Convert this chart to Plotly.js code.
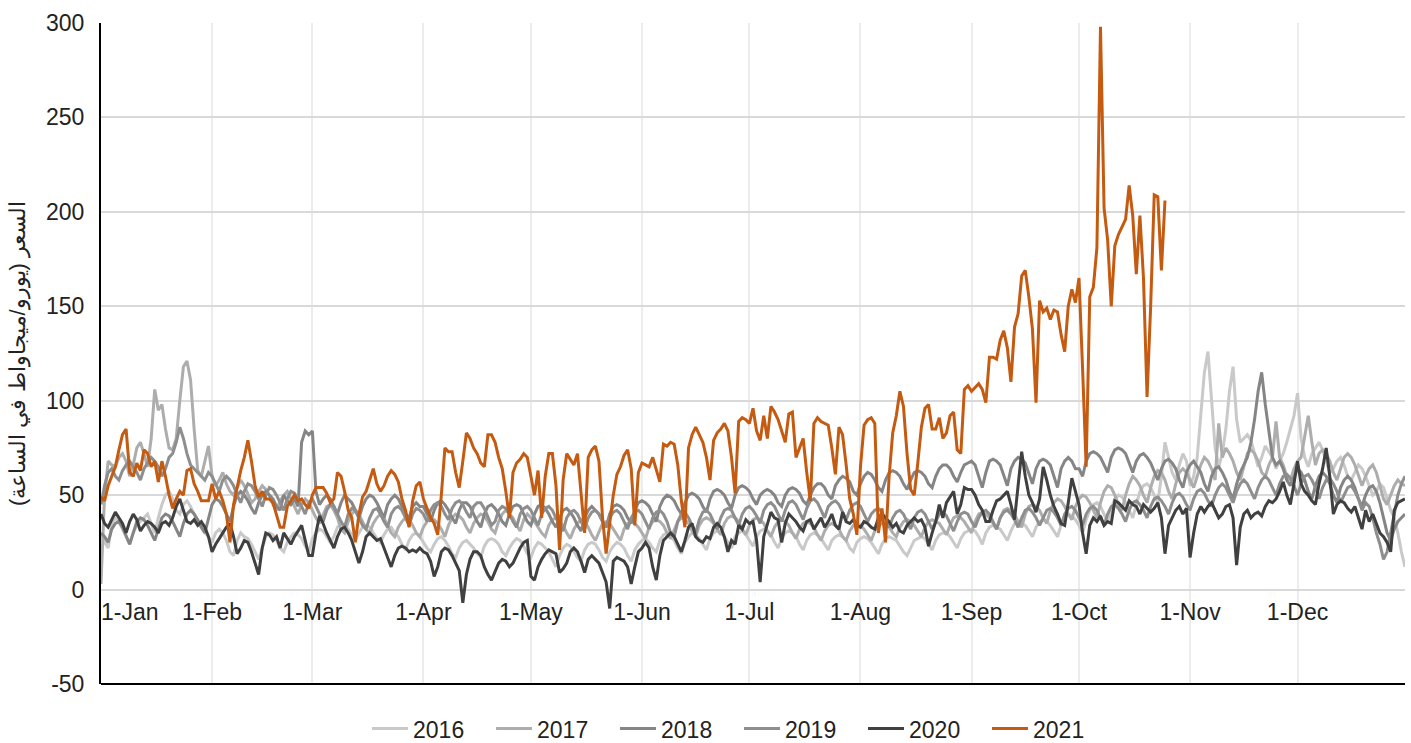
<!DOCTYPE html>
<html>
<head>
<meta charset="utf-8">
<script src="https://cdn.plot.ly/plotly-3.0.1.min.js"></script>
<style>html,body{margin:0;padding:0;background:#fff;}#chart{width:1411px;height:743px;}</style>
</head>
<body>
<div id="chart"></div>
<script>
// Daily prices (EUR/MWh) plotted on a common Jan–Dec calendar
const seriesNames = ['2016', '2017', '2018', '2019', '2020', '2021'];
const tickLabels = ['1-Jan','1-Feb','1-Mar','1-Apr','1-May','1-Jun','1-Jul','1-Aug','1-Sep','1-Oct','1-Nov','1-Dec'];
const tickDates = ['2021-01-01','2021-02-01','2021-03-01','2021-04-01','2021-05-01','2021-06-01','2021-07-01','2021-08-01','2021-09-01','2021-10-01','2021-11-01','2021-12-01'];
const yTickVals = [-50, 0, 50, 100, 150, 200, 250, 300];
const yTickText = ['-50', '0', '50', '100', '150', '200', '250', '300'];

const y2016 = [
30,25,22,35,38,36,32,28,24,30,34,36,38,40,35,30,38,45,50,52,48,42,40,45,47,44,40,35,33,30,28,
25,30,32,30,26,20,18,26,30,28,27,24,20,16,22,28,30,29,26,22,20,25,28,30,29,27,23,20,
27,30,32,31,28,25,28,33,35,34,32,29,26,30,33,34,33,30,27,25,29,32,33,30,28,24,21,26,29,30,28,
25,22,20,24,27,28,26,23,19,17,22,25,26,24,22,19,17,23,26,27,26,24,20,18,22,25,27,26,23,19,
17,22,25,24,22,20,16,12,18,22,24,23,20,17,15,21,24,25,24,21,17,15,20,23,25,24,22,18,15,21,24,
26,27,25,22,20,26,29,30,28,26,22,19,25,28,30,29,27,24,21,27,30,31,30,28,25,22,28,30,31,29,
26,23,28,31,32,31,29,25,22,27,30,31,30,28,24,21,26,29,30,29,27,24,21,26,28,29,28,26,22,20,25,
27,28,27,25,22,19,24,27,28,27,26,23,20,18,22,26,27,28,27,24,21,26,29,30,30,28,25,22,27,30,31,
32,31,28,24,30,33,34,33,32,29,26,31,35,36,35,34,31,28,33,36,37,36,34,31,28,34,38,40,39,37,
34,30,37,42,45,46,44,40,36,43,48,50,49,46,42,38,45,52,55,56,54,50,46,60,78,70,62,58,66,72,68,
55,60,70,95,115,126,100,75,65,72,85,105,118,90,78,80,82,79,72,65,70,76,73,70,64,68,72,78,85,92,
104,80,70,65,72,75,78,74,68,62,64,68,70,66,60,58,62,66,64,60,55,50,52,56,54,48,42,38,30,20,12
];
const y2017 = [
3,50,68,66,65,70,72,68,60,66,75,78,72,65,80,106,95,98,85,75,74,80,100,118,121,111,85,63,60,68,76,
60,55,58,62,56,52,50,54,58,55,50,46,48,52,55,53,50,45,42,47,50,52,48,44,40,45,48,46,
42,38,35,40,44,45,42,38,32,30,36,40,42,40,36,32,30,35,38,40,38,34,30,28,33,36,38,37,34,30,28,
33,36,38,37,35,32,28,34,38,40,39,37,33,30,35,38,40,39,36,32,30,36,40,42,40,38,34,31,37,40,
38,36,33,30,28,34,37,38,36,34,30,27,32,35,37,36,33,29,26,31,35,36,35,32,29,26,32,35,36,35,33,
30,27,33,36,37,36,34,30,27,32,36,38,37,35,31,28,34,37,38,37,35,32,29,35,38,39,38,36,32,29,
34,37,38,37,35,31,28,33,36,37,36,34,30,27,32,35,36,35,33,29,26,31,34,35,34,32,28,26,31,34,35,
34,32,29,26,31,34,35,34,33,30,28,33,36,37,36,34,31,28,33,36,37,36,35,32,29,34,38,39,38,36,33,
30,36,40,41,40,38,35,32,38,42,43,42,40,36,33,40,44,45,44,42,38,35,42,46,48,47,44,40,37,44,
48,50,49,46,42,38,46,52,55,54,50,45,42,50,56,60,58,55,50,46,54,60,63,62,58,52,48,56,62,64,62,
58,54,60,66,70,68,64,58,88,70,75,72,68,62,58,65,72,74,72,68,62,60,66,70,89,70,66,60,58,64,
68,70,80,92,78,66,72,74,72,68,62,58,64,70,72,70,66,60,55,60,64,66,62,55,48,45,50,55,58,56,55
];
const y2018 = [
30,28,25,32,35,36,33,28,24,30,36,38,37,34,30,26,32,38,40,39,36,32,28,35,40,42,40,37,33,30,38,
45,48,47,44,40,36,44,50,52,50,47,43,40,46,50,52,50,48,44,42,50,47,45,48,44,78,84,82,
84,52,45,48,50,48,44,40,46,50,48,46,42,38,44,48,50,49,46,42,38,45,48,50,48,44,40,38,44,46,44,
44,40,36,42,46,47,45,42,38,35,42,46,46,44,40,36,33,40,44,45,43,40,36,34,40,44,45,44,40,36,
34,40,44,45,43,40,36,33,38,42,43,41,38,34,31,38,42,44,42,40,36,33,40,44,45,44,42,38,35,42,46,
47,46,44,40,36,44,48,50,49,47,43,40,46,50,51,50,48,44,41,48,52,53,52,50,46,43,50,54,55,54,
52,48,45,50,52,53,52,50,46,44,50,53,54,53,51,47,45,50,54,56,56,54,50,48,55,58,60,59,57,52,50,
56,60,62,61,58,54,52,58,62,63,62,60,56,53,58,62,63,62,60,56,54,60,64,66,66,64,60,57,62,66,67,
68,66,60,54,62,68,69,68,66,60,55,64,68,70,69,67,62,56,64,68,69,68,66,60,54,64,68,70,68,64,
64,60,68,72,73,72,70,66,62,70,74,75,74,72,67,62,68,71,72,70,67,62,58,64,68,69,67,64,58,54,62,
66,68,65,62,56,52,60,64,65,62,58,52,48,56,62,66,70,78,90,105,115,98,85,70,66,68,64,58,55,60,
64,62,58,52,48,55,60,62,60,56,50,46,54,58,60,58,54,48,44,50,54,55,52,46,38,30,26,32,36,38,40
];
const y2019 = [
45,55,62,64,60,58,63,66,68,65,62,58,64,67,70,68,65,60,64,70,72,78,86,80,72,66,64,62,60,58,62,
60,56,52,58,60,58,55,50,46,52,56,55,52,48,44,50,54,53,50,46,42,48,52,51,48,44,40,46,
48,44,40,36,42,45,44,40,36,33,40,43,42,38,34,32,38,42,43,40,36,33,40,43,44,42,38,34,40,43,42,
40,36,42,45,46,44,40,37,43,46,47,45,41,38,44,46,46,43,38,34,36,42,44,43,40,36,33,40,43,44,
42,38,34,40,43,44,42,38,34,31,38,41,42,40,36,32,38,41,42,40,36,33,38,41,42,40,36,32,38,41,42,
40,36,32,38,41,42,40,36,30,28,36,40,41,38,34,30,37,41,42,40,36,32,38,42,43,42,38,34,40,43,
44,42,39,35,42,45,46,44,40,36,42,46,47,45,41,37,43,47,48,46,42,38,44,46,47,45,41,37,42,45,46,
44,40,36,40,42,43,41,37,33,38,41,42,40,36,32,38,41,42,40,36,32,36,40,41,39,35,31,36,40,41,40,
36,33,38,41,42,40,36,32,38,41,42,40,37,33,38,42,43,41,38,34,38,42,43,41,38,34,40,43,44,42,
38,34,40,43,44,42,38,34,40,44,45,43,40,36,42,46,47,45,42,38,44,48,49,47,44,40,46,50,51,49,45,
42,48,52,53,51,47,44,50,54,56,54,50,46,52,56,58,56,52,48,54,58,60,58,54,50,56,60,61,59,55,
50,56,60,61,58,54,48,54,58,59,56,52,46,50,54,55,52,48,42,46,44,38,30,24,16,20,30,42,50,56,60
];
const y2020 = [
40,35,33,37,41,38,35,30,36,40,37,31,34,36,35,33,30,35,36,34,38,44,48,42,36,35,37,34,36,33,28,
20,24,27,30,33,35,28,19,22,26,25,20,14,8,22,30,29,26,28,22,30,27,24,28,31,34,26,18,
18,30,39,35,30,26,22,28,32,33,30,26,20,14,20,28,30,28,26,27,22,18,12,18,22,23,22,20,21,20,22,
20,19,15,7,12,20,22,21,18,14,10,-7,8,16,20,20,18,12,8,5,10,14,16,15,12,14,18,22,25,26,
7,5,12,16,19,21,20,19,9,11,14,20,22,20,15,9,16,18,16,14,9,4,-10,15,17,16,15,12,3,12,20,
22,25,22,12,5,18,26,28,30,28,24,20,26,33,35,28,26,25,28,27,33,35,33,28,20,26,24,34,32,37,
35,36,26,4,28,34,41,38,37,25,35,40,38,36,33,31,36,37,32,35,38,33,36,40,34,32,41,36,35,37,34,
33,36,35,33,32,38,40,38,36,33,35,31,30,34,36,38,36,37,33,23,30,36,45,38,46,49,52,40,45,54,53,
53,50,45,42,36,36,42,47,48,50,52,45,37,55,73,60,50,46,41,48,65,58,50,44,40,35,34,46,59,52,
45,30,19,34,38,36,39,34,36,35,47,46,44,42,47,45,44,40,45,43,41,43,46,38,19,34,38,42,44,40,43,
17,30,40,44,41,44,46,42,38,40,44,45,38,13,33,40,42,38,40,41,39,44,47,46,48,52,57,50,45,56,
68,56,52,50,47,45,56,64,75,60,40,45,47,46,43,41,44,38,32,42,36,40,35,30,28,25,20,42,46,47,48
];
const y2021 = [
49,47,55,60,65,74,82,85,62,60,67,63,74,72,65,68,57,68,60,50,43,48,52,50,63,64,56,52,47,47,47,
56,48,52,47,40,25,45,55,63,70,79,68,55,49,52,48,48,46,40,33,33,44,47,50,47,48,45,43,
50,54,54,54,51,46,48,62,60,52,42,38,25,40,49,52,58,64,56,52,55,60,63,61,57,48,42,33,47,55,57,
48,43,38,35,29,50,75,73,73,62,54,68,83,80,75,72,67,65,82,82,78,70,64,52,38,62,67,69,72,70,
60,50,63,38,60,72,72,55,21,58,72,69,66,72,50,30,70,74,76,68,38,19,35,50,61,65,71,74,64,34,62,
67,66,65,70,64,57,77,76,78,77,66,47,33,75,82,86,82,78,70,58,79,83,85,88,84,70,51,89,91,90,
88,96,84,79,92,80,97,94,90,84,78,93,94,70,75,80,62,47,88,91,89,88,87,75,61,86,82,66,48,40,29,
65,87,90,91,88,30,43,25,60,83,92,105,97,72,53,50,67,86,96,98,85,85,91,80,83,92,94,74,72,106,108,
105,107,109,106,99,123,123,122,132,137,128,110,139,146,166,169,155,138,99,153,147,149,143,148,147,135,126,150,159,152,
165,117,65,155,160,181,298,202,185,150,182,188,192,196,214,198,167,198,165,102,150,209,208,169,206
];

const seriesValues = [y2016, y2017, y2018, y2019, y2020, y2021];
const seriesColors = ['#c9c9c9', '#adadad', '#858585', '#8e8e8e', '#404040', '#c55a11'];

function dayDates(n) {
  const out = [];
  for (let i = 0; i < n; i++) {
    const d = new Date(Date.UTC(2021, 0, 1 + i));
    out.push(d.toISOString().slice(0, 10));
  }
  return out;
}

const FONT = 'Liberation Sans, Arial, Helvetica, sans-serif';
const traces = seriesNames.map((name, k) => ({
  type: 'scatter',
  mode: 'lines',
  name: name,
  x: dayDates(seriesValues[k].length),
  y: seriesValues[k],
  line: {color: seriesColors[k], width: 3},
  hoverinfo: 'skip'
}));

// first month label is drawn by a second axis, placed to the right of its tick
const mainTickText = tickLabels.map((t, i) => i === 0 ? '' : t);
const X_RANGE = ['2021-01-01', '2021-12-31'];
const ZERO_POS = 50 / 350;

const layout = {
  width: 1411,
  height: 743,
  margin: {l: 101, r: 6, t: 23, b: 59, autoexpand: false},
  paper_bgcolor: '#ffffff',
  plot_bgcolor: '#ffffff',
  font: {family: FONT, size: 23, color: '#222222'},
  showlegend: true,
  legend: {
    orientation: 'h',
    x: 0.204, xanchor: 'left',
    y: -0.035, yanchor: 'top',
    font: {family: FONT, size: 23, color: '#222222'},
    itemwidth: 36,
    entrywidth: 73,
    entrywidthmode: 'pixels',
    bgcolor: 'rgba(0,0,0,0)'
  },
  xaxis: {
    type: 'date',
    range: X_RANGE,
    anchor: 'free',
    position: ZERO_POS,
    tickmode: 'array',
    tickvals: tickDates,
    ticktext: mainTickText,
    showgrid: true,
    gridcolor: '#ececec',
    gridwidth: 2,
    showline: false,
    zeroline: false,
    ticks: '',
    ticklabelstandoff: 6,
    tickfont: {family: FONT, size: 23, color: '#222222'},
    fixedrange: true
  },
  xaxis2: {
    type: 'date',
    range: X_RANGE,
    overlaying: 'x',
    anchor: 'free',
    position: ZERO_POS,
    side: 'bottom',
    tickmode: 'array',
    tickvals: [tickDates[0]],
    ticktext: [tickLabels[0]],
    ticklabelposition: 'outside right',
    showgrid: false,
    showline: false,
    zeroline: false,
    ticks: '',
    ticklabelstandoff: 6,
    tickfont: {family: FONT, size: 23, color: '#222222'},
    fixedrange: true
  },
  yaxis: {
    range: [-50, 300],
    tickmode: 'array',
    tickvals: yTickVals,
    ticktext: yTickText,
    showgrid: true,
    gridcolor: '#d9d9d9',
    gridwidth: 2,
    zeroline: false,
    showline: true,
    linecolor: '#000000',
    linewidth: 2,
    ticks: '',
    ticklabelstandoff: 10,
    tickfont: {family: FONT, size: 23, color: '#222222'},
    title: {text: 'السعر (يورو/ميجاواط في الساعة)', font: {family: FONT, size: 22, color: '#222222'}, standoff: 14},
    fixedrange: true
  },
  shapes: [{
    type: 'line', xref: 'paper', yref: 'paper',
    x0: 0, x1: 1, y0: 0, y1: 0,
    line: {color: '#000000', width: 2}
  }]
};

// an invisible carrier trace so the second x axis is drawn
traces.push({
  type: 'scatter', mode: 'lines', x: [tickDates[0]], y: [null],
  xaxis: 'x2', yaxis: 'y', showlegend: false, hoverinfo: 'skip'
});

Plotly.newPlot('chart', traces, layout, {staticPlot: true, displayModeBar: false});
</script>
</body>
</html>
